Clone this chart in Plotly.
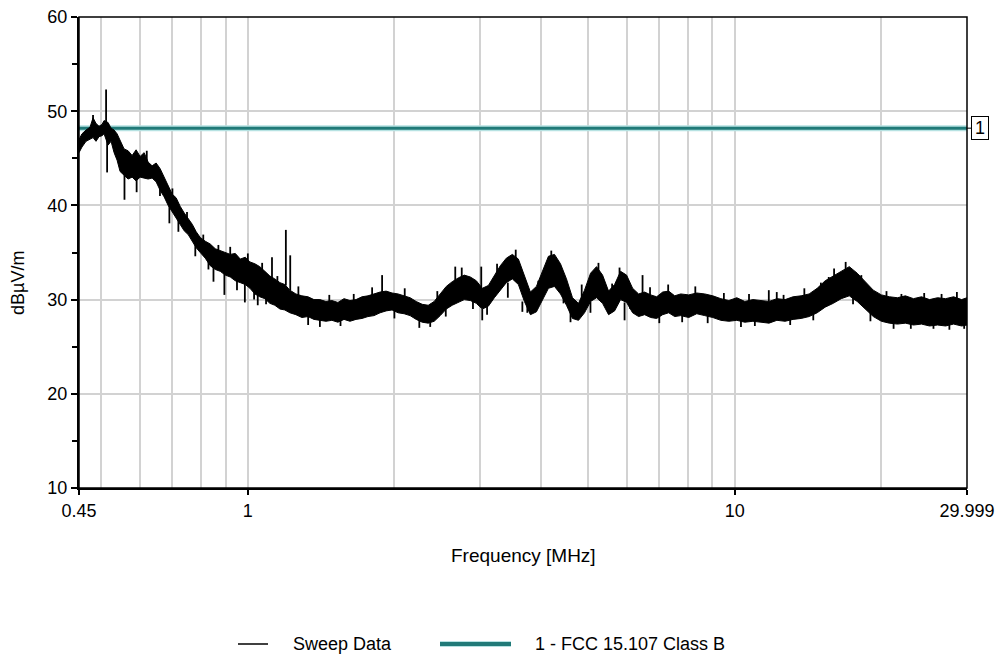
import math
import plotly.graph_objects as go

# Sweep envelope: frequency (MHz), upper and lower level of the trace (dBuV/m)
sweep_freq = [
    0.450, 0.4564, 0.4652, 0.4741, 0.4809, 0.4877, 0.4947, 0.5018, 0.5066, 0.5163,
    0.5237, 0.5312, 0.5388, 0.5465, 0.5569, 0.5676, 0.5785, 0.5895, 0.6008, 0.6123,
    0.6240, 0.6359, 0.6481, 0.6605, 0.6732, 0.6860, 0.6992, 0.7125, 0.7262, 0.7401,
    0.7542, 0.7687, 0.7834, 0.7984, 0.8175, 0.8371, 0.8572, 0.8777, 0.8988, 0.9203,
    0.9424, 0.9650, 0.9881, 1.010, 1.034, 1.058, 1.084, 1.110, 1.136, 1.164,
    1.191, 1.220, 1.255, 1.291, 1.329, 1.367, 1.406, 1.447, 1.488, 1.531,
    1.576, 1.621, 1.668, 1.716, 1.765, 1.816, 1.869, 1.923, 1.978, 2.035,
    2.094, 2.154, 2.217, 2.281, 2.347, 2.414, 2.484, 2.556, 2.629, 2.705,
    2.783, 2.864, 2.946, 3.031, 3.119, 3.209, 3.301, 3.396, 3.494, 3.595,
    3.699, 3.805, 3.915, 4.028, 4.144, 4.264, 4.387, 4.513, 4.643, 4.777,
    4.915, 5.057, 5.202, 5.353, 5.507, 5.666, 5.829, 5.997, 6.170, 6.348,
    6.531, 6.720, 6.913, 7.113, 7.318, 7.529, 7.746, 8.046, 8.357, 8.680,
    9.016, 9.364, 9.727, 10.10, 10.49, 10.90, 11.32, 11.76, 12.21, 12.69,
    13.18, 13.69, 14.22, 14.77, 15.34, 15.93, 16.55, 17.19, 17.85, 18.55,
    19.26, 20.01, 20.78, 21.59, 22.42, 23.29, 24.19, 25.13, 26.10, 27.11,
    28.16, 29.25, 29.999,
]
sweep_hi = [
    47.0, 47.6, 48.0, 48.3, 49.3, 48.7, 48.4, 48.6, 49.0, 48.8,
    48.2, 48.0, 47.6, 46.9, 46.0, 45.8, 45.3, 45.9, 45.2, 45.6,
    44.6, 44.2, 44.5, 43.9, 43.0, 42.0, 41.2, 40.8, 39.9, 39.2,
    38.6, 38.0, 37.2, 36.6, 36.2, 35.9, 35.4, 35.2, 35.0, 34.8,
    34.9, 34.3, 34.5, 34.0, 33.8, 33.5, 33.0, 32.5, 32.2, 31.8,
    31.6, 31.0, 30.6, 30.4, 30.3, 30.0, 30.0, 29.8, 29.9, 29.7,
    30.1, 29.9, 30.0, 30.3, 30.4, 30.6, 30.8, 30.9, 30.7, 30.6,
    30.4, 30.2, 29.8, 29.5, 29.4, 29.8, 30.6, 31.4, 31.9, 32.3,
    32.6, 32.4, 32.0, 31.2, 31.5, 32.5, 33.6, 34.4, 34.8, 34.3,
    32.6, 30.8, 31.4, 33.0, 34.6, 34.8, 33.8, 32.2, 30.2, 29.6,
    31.0, 32.8, 33.5, 32.6, 30.9, 31.6, 33.0, 32.6, 31.2, 30.6,
    30.8, 30.5, 30.3, 30.8, 30.9, 30.4, 30.6, 30.5, 30.7, 30.6,
    30.4, 30.1, 29.9, 30.2, 29.8, 30.0, 29.9, 29.8, 30.1, 30.0,
    30.3, 30.4, 30.6, 31.2, 32.0, 32.5, 33.0, 33.5, 32.8, 31.9,
    31.0, 30.5, 30.3, 30.2, 30.4, 30.1, 30.3, 30.0, 30.2, 30.1,
    30.3, 30.0, 30.2,
]
sweep_lo = [
    45.6, 46.2, 46.8, 47.0, 47.2, 46.8, 47.3, 47.4, 47.6, 46.4,
    46.8, 45.6, 44.8, 43.6, 43.2, 42.8, 43.0, 42.6, 43.0, 42.9,
    42.8, 42.9, 42.5, 41.6, 40.9, 40.0, 39.3, 38.6, 38.0, 37.3,
    36.9, 36.2, 35.5, 35.0, 34.4, 33.6, 33.2, 33.0, 32.6, 32.4,
    32.0, 31.8, 31.6, 31.2, 30.6, 30.3, 30.1, 29.6, 29.4, 29.0,
    28.9, 28.6, 28.4, 28.1, 28.2, 27.9, 27.8, 27.7, 27.8, 27.6,
    27.9, 27.7, 27.9, 28.0, 28.2, 28.3, 28.6, 28.8, 28.9, 28.6,
    28.5, 28.3, 27.9, 27.6, 27.5, 27.7, 28.3, 29.0, 29.4, 29.7,
    30.0, 29.9, 29.6, 29.0, 29.3, 30.2, 31.0, 31.8, 32.2, 31.6,
    29.8, 28.4, 28.7, 29.9, 31.2, 31.4, 30.6, 29.4, 28.0, 27.8,
    28.6, 29.8, 30.2, 29.6, 28.4, 28.8, 30.0, 29.7, 28.6, 28.2,
    28.4, 28.1, 28.0, 28.4, 28.6, 28.2, 28.3, 28.1, 28.5, 28.3,
    28.1, 27.8, 27.7, 27.8, 27.6, 27.7, 27.6, 27.5, 27.8, 27.7,
    27.9, 28.0, 28.2, 28.6, 29.2, 29.6, 30.1, 30.4, 29.8, 29.0,
    28.2, 27.7, 27.5, 27.4, 27.5, 27.3, 27.4, 27.2, 27.3, 27.2,
    27.4, 27.2, 27.3,
]

# Spikes sticking out of the band: frequency (MHz), start level, tip level
spike_freq = [
    0.4809, 0.5115, 0.5140, 0.558, 0.591, 0.620, 0.660, 0.690, 0.700, 0.720,
    0.750, 0.780, 0.810, 0.830, 0.850, 0.870, 0.895, 0.920, 0.950, 0.986,
    1.000, 1.030, 1.048, 1.070, 1.090, 1.121, 1.150, 1.197, 1.222, 1.270,
    1.330, 1.406, 1.470, 1.550, 1.650, 1.800, 1.887, 2.000, 2.100, 2.250,
    2.369, 2.450, 2.550, 2.667, 2.750, 2.900, 3.016, 3.030, 3.100, 3.250,
    3.420, 3.550, 3.663, 3.750, 3.950, 4.200, 4.450, 4.600, 4.850, 5.055,
    5.250, 5.600, 5.800, 5.940, 6.100, 6.467, 6.700, 7.000, 7.300, 7.800,
    8.300, 8.800, 9.500, 10.30, 10.70, 11.00, 11.75, 12.20, 12.60, 13.00,
    13.90, 14.50, 15.03, 15.60, 16.00, 16.90, 17.50, 18.20, 19.00, 20.50,
    21.20, 22.00, 23.00, 24.50, 25.60, 26.60, 27.60, 28.60, 29.60,
]
spike_base = [
    48.5, 48.5, 47.5, 43.5, 43.0, 44.0, 42.5, 40.0, 40.0, 38.5,
    37.5, 36.0, 35.5, 34.5, 33.5, 34.0, 33.0, 33.5, 33.0, 31.8,
    32.5, 32.0, 30.5, 31.5, 31.5, 32.0, 30.5, 31.5, 31.0, 29.5,
    29.0, 28.0, 28.8, 28.8, 28.8, 29.4, 30.5, 29.8, 29.4, 28.6,
    27.6, 29.0, 30.2, 31.8, 31.2, 31.0, 31.2, 29.0, 30.5, 31.5,
    31.8, 33.0, 29.8, 31.0, 30.0, 33.0, 32.0, 29.0, 29.5, 29.8,
    31.8, 29.7, 31.5, 29.7, 31.0, 30.6, 29.2, 29.2, 29.5, 29.5,
    29.5, 29.4, 28.8, 28.8, 28.8, 28.8, 29.8, 28.8, 30.0, 29.0,
    29.2, 29.4, 31.0, 32.0, 31.0, 32.0, 31.5, 30.5, 29.6, 28.9,
    28.9, 28.8, 28.8, 28.8, 28.7, 28.7, 28.7, 28.8, 28.7,
]
spike_tip = [
    49.6, 52.3, 43.5, 40.6, 41.4, 45.8, 41.0, 38.1, 41.8, 37.2,
    39.3, 34.6, 36.9, 33.2, 31.9, 35.8, 30.5, 35.6, 31.0, 29.7,
    34.9, 30.0, 29.4, 33.9, 29.5, 34.5, 32.5, 37.4, 34.7, 31.4,
    27.3, 27.1, 30.5, 27.2, 30.6, 31.3, 32.6, 28.0, 31.2, 27.0,
    27.1, 30.9, 28.2, 33.5, 33.4, 29.0, 33.5, 27.8, 28.4, 33.8,
    30.2, 35.3, 28.7, 28.6, 32.0, 35.2, 29.6, 27.6, 31.6, 28.6,
    33.9, 31.7, 33.4, 27.8, 29.0, 32.6, 31.3, 27.5, 31.6, 27.6,
    31.4, 27.5, 30.7, 27.1, 30.6, 27.2, 31.0, 30.8, 30.5, 27.3,
    31.2, 27.8, 31.8, 32.4, 33.3, 34.0, 29.5, 32.6, 27.7, 30.9,
    26.9, 30.6, 26.9, 30.7, 26.9, 30.6, 26.8, 30.8, 26.9,
]

# Limit line
limit_name = "1 - FCC 15.107 Class B"
limit_freq = [0.45, 29.999]
limit_level = [48.2, 48.2]

x_ticks = [0.45, 1, 10, 29.999]
x_tick_text = ["0.45", "1", "10", "29.999"]
x_grid = [0.5, 0.6, 0.7, 0.8, 0.9, 2, 3, 4, 5, 6, 7, 8, 9, 20]

FONT = "Liberation Sans, Arial, sans-serif"
TEAL = "#217a78"
HALO = "#b6e2e2"
GRID = "#d2d2d2"

fig = go.Figure()

# Limit line with its pale halo
fig.add_trace(go.Scatter(x=limit_freq, y=limit_level, mode="lines",
                         line=dict(color=HALO, width=6), hoverinfo="skip"))
fig.add_trace(go.Scatter(x=limit_freq, y=limit_level, mode="lines",
                         line=dict(color=TEAL, width=3), name=limit_name))

# Sweep trace drawn as a filled band between its envelopes
fig.add_trace(go.Scatter(x=sweep_freq, y=sweep_lo, mode="lines",
                         line=dict(color="black", width=1), hoverinfo="skip"))
fig.add_trace(go.Scatter(x=sweep_freq, y=sweep_hi, mode="lines",
                         line=dict(color="black", width=1),
                         fill="tonexty", fillcolor="black", name="Sweep Data"))

sx, sy = [], []
for f, b, t in zip(spike_freq, spike_base, spike_tip):
    sx += [f, f, None]
    sy += [b, t, None]
fig.add_trace(go.Scatter(x=sx, y=sy, mode="lines",
                         line=dict(color="black", width=1.8), hoverinfo="skip"))

fig.update_layout(
    width=1001, height=657,
    margin=dict(l=79, r=34, t=17, b=169, autoexpand=False),
    paper_bgcolor="white", plot_bgcolor="white",
    showlegend=False,
    font=dict(family=FONT, size=18, color="black"),
)

fig.update_xaxes(
    type="log", range=[math.log10(0.45), math.log10(29.999)],
    tickmode="array", tickvals=x_ticks, ticktext=x_tick_text,
    ticks="outside", ticklen=5, tickwidth=1.5, tickcolor="black",
    showgrid=True, gridcolor=GRID, gridwidth=2,
    minor=dict(tickmode="array", tickvals=x_grid, showgrid=True,
               gridcolor=GRID, gridwidth=2, ticks=""),
    showline=True, linecolor="black", linewidth=2, zeroline=False,
    tickfont=dict(size=18),
)
fig.update_yaxes(
    range=[10, 60], tickmode="linear", tick0=10, dtick=10,
    ticks="outside", ticklen=6, tickwidth=1.5, tickcolor="black",
    showgrid=True, gridcolor=GRID, gridwidth=2,
    minor=dict(dtick=5, ticks="outside", ticklen=5, tickwidth=1.5,
               tickcolor="black", showgrid=False),
    showline=True, linecolor="black", linewidth=2, zeroline=False,
    tickfont=dict(size=18),
)

# Plot frame (top and right edges)
fig.add_shape(type="rect", xref="paper", yref="paper", x0=0, y0=0, x1=1, y1=1,
              line=dict(color="black", width=1.5), layer="above")

# Limit line tag
fig.add_shape(type="line", xref="paper", yref="y", x0=1, x1=1.005,
              y0=limit_level[-1], y1=limit_level[-1],
              line=dict(color="black", width=1))
fig.add_annotation(xref="paper", yref="y", x=1.005, y=limit_level[-1],
                   xanchor="left", yanchor="middle", text="1", showarrow=False,
                   font=dict(size=18), bordercolor="black", borderwidth=1,
                   borderpad=1, bgcolor="white", width=14)

# Axis titles
fig.add_annotation(xref="paper", yref="paper", x=0.5, y=(488 - 555) / 471,
                   text="Frequency [MHz]", showarrow=False,
                   xanchor="center", yanchor="middle", font=dict(size=19))
fig.add_annotation(xref="paper", yref="paper", x=(18 - 79) / 888, y=(488 - 283) / 471,
                   text="dBµV/m", showarrow=False, textangle=-90,
                   xanchor="center", yanchor="middle", font=dict(size=18))

# Legend drawn below the plot
ly = (488 - 644) / 471
fig.add_shape(type="line", xref="paper", yref="paper",
              x0=(238 - 79) / 888, x1=(268 - 79) / 888, y0=ly, y1=ly,
              line=dict(color="black", width=1.5))
fig.add_annotation(xref="paper", yref="paper", x=(291 - 79) / 888, y=ly,
                   text="Sweep Data", showarrow=False, xanchor="left",
                   yanchor="middle", font=dict(size=18))
fig.add_shape(type="line", xref="paper", yref="paper",
              x0=(440 - 79) / 888, x1=(511 - 79) / 888, y0=ly, y1=ly,
              line=dict(color=HALO, width=6))
fig.add_shape(type="line", xref="paper", yref="paper",
              x0=(440 - 79) / 888, x1=(511 - 79) / 888, y0=ly, y1=ly,
              line=dict(color=TEAL, width=4))
fig.add_annotation(xref="paper", yref="paper", x=(533 - 79) / 888, y=ly,
                   text=limit_name, showarrow=False, xanchor="left",
                   yanchor="middle", font=dict(size=18))

fig.write_html("out.html")
